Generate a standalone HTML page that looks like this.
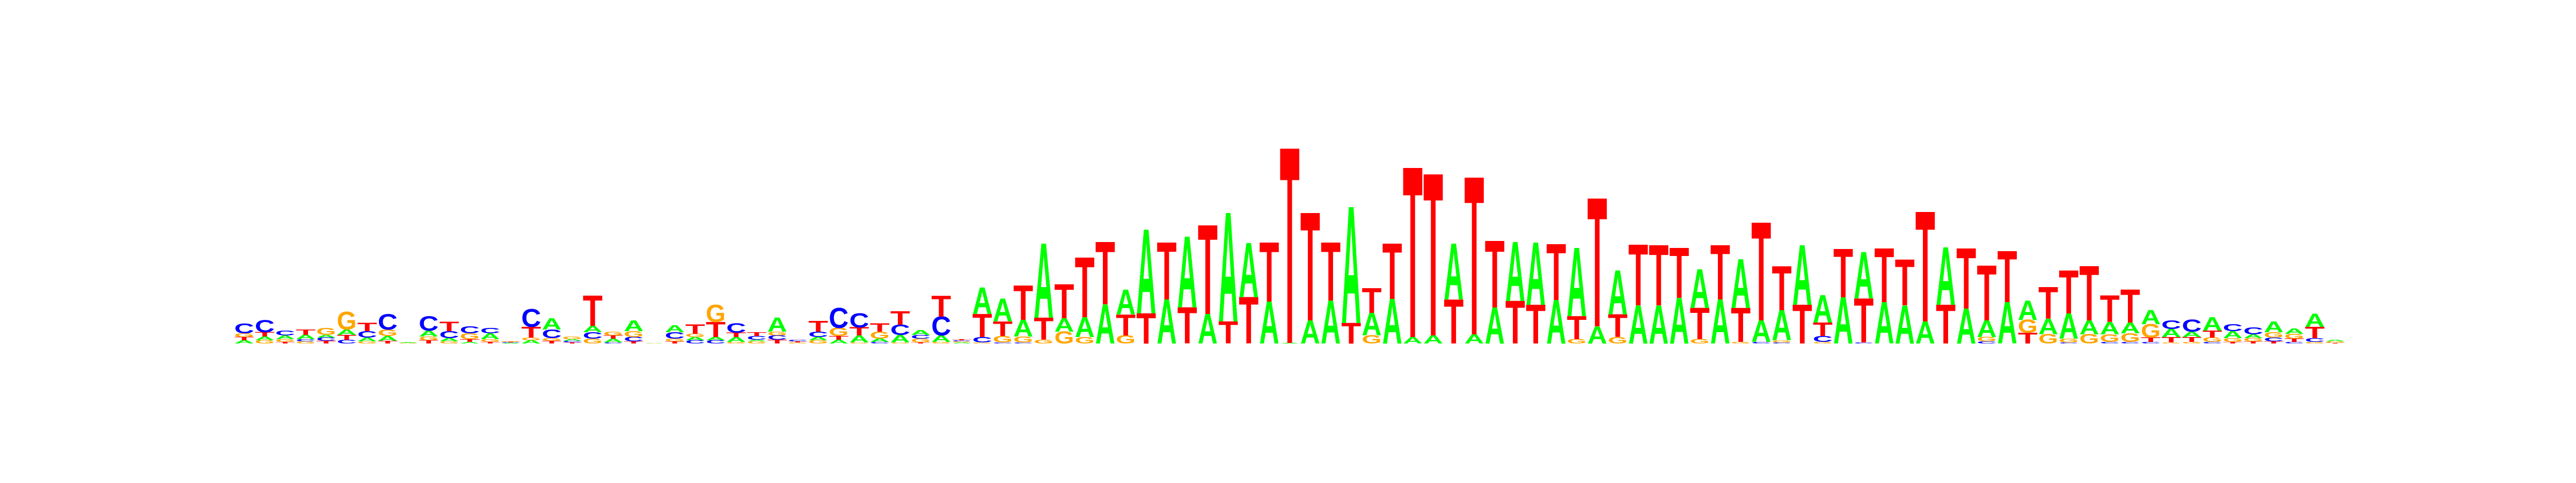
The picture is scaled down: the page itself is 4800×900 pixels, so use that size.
<!DOCTYPE html>
<html><head><meta charset="utf-8"><style>
html,body{margin:0;padding:0;background:#fff;}
svg{display:block;}
</style></head><body>
<svg id="logo" width="4800" height="900" viewBox="0 0 4800 900" xmlns="http://www.w3.org/2000/svg">
<rect x="0" y="0" width="4800" height="900" fill="#fff"/>
<g id="stacks"></g>
</svg>
<script>
// letters per position, bottom to top
const stackLetters = [
"ATGC","GATC","TGAC","GCAT","TCAG","CTAG","GACT","TAGC","GA","TGAC",
"GACT","ATGC","TGAC","ACTG","AGTC","TGCA","TCAG","GCAT","CATG","TCGA",
"AG","TGCA","CAGT","CATG","GATC","GACT","TCGA","GTC","GACT","ATGC",
"GATC","CAGT","GACT","TGCA","GACT","AGCT","GCTA","CGTA","CGAT","GTA",
"GAT","GAT","AT","GTA","TA","AT","TA","AT","TA","TA",
"AT","AT","AT","AT","TA","GAT","AT","AT","AT","TA",
"AT","AT","TA","TA","AT","GTA","AT","GTA","AT","AT",
"AT","GTA","AT","GTA","CAT","CGAT","TA","GCTA","AT","CTA",
"AT","AT","AT","TA","AT","CGAT","AT","TGA","GAT","CGAT",
"GAT","CGAT","CGAT","CTGA","GTAC","GTAC","CGTA","TGAC","TGAC","TCGA",
"CTGA","GCTA","TGA"
];
// information heights (bits) per letter, same order
const stackHeights = [
[.03,.03,.035,.09],[.03,.035,.04,.11],[.015,.025,.035,.045],[.02,.02,.04,.05],[.025,.03,.025,.065],
[.035,.045,.05,.165],[.02,.035,.06,.075],[.025,.045,.06,.145],[.005,.005],[.03,.035,.055,.135],
[.02,.03,.065,.085],[.015,.025,.055,.065],[.015,.025,.055,.05],[.005,.005,.005,.005],[.03,.025,.10,.165],
[.025,.025,.08,.105],[.01,.015,.015,.025],[.045,.06,.06,.28],[.01,.035,.03,.035],[.02,.04,.055,.10],
[.003,.003],[.02,.025,.06,.065],[.03,.03,.03,.085],[.03,.03,.14,.16],[.015,.045,.04,.085],
[.02,.015,.035,.035],[.035,.04,.035,.13],[.01,.01,.015],[.03,.03,.05,.10],[.035,.035,.075,.185],
[.01,.065,.075,.13],[.015,.03,.065,.075],[.01,.07,.095,.125],[.01,.035,.035,.045],[.015,.06,.175,.195],
[.01,.01,.01,.01],[.01,.05,.215,.245],[.01,.06,.135,.21],[.01,.055,.155,.32],[.035,.205,.69],
[.11,.125,.315],[.06,.185,.555],[.365,.58],[.075,.195,.23],[.28,.78],
[.41,.53],[.335,.66],[.275,.825],[.205,1.01],[.43,.505],
[.39,.55],[.005,1.81],[.215,1.0],[.40,.54],[.19,1.08],
[.075,.21,.23],[.415,.515],[.06,1.575],[.075,1.50],[.41,.52],
[.085,1.46],[.335,.62],[.395,.55],[.36,.58],[.405,.52],
[.04,.215,.635],[.16,1.19],[.06,.21,.41],[.355,.565],[.355,.56],
[.425,.465],[.04,.29,.36],[.41,.505],[.015,.315,.455],[.015,.20,.91],
[.01,.02,.28,.41],[.36,.555],[.015,.055,.125,.255],[.43,.45],[.01,.41,.43],
[.385,.50],[.355,.425],[.205,1.02],[.36,.535],[.325,.56],
[.02,.04,.155,.51],[.385,.475],[.10,.12,.18],[.085,.145,.295],[.01,.035,.235,.40],
[.085,.13,.505],[.015,.07,.115,.245],[.015,.08,.10,.305],[.015,.04,.125,.13],[.01,.05,.075,.08],
[.015,.045,.05,.11],[.015,.04,.065,.125],[.015,.035,.065,.065],[.02,.03,.035,.065],[.02,.035,.05,.10],
[.015,.03,.045,.05],[.015,.035,.105,.12],[.005,.015,.015]
];
const letterColors = {A:"#00ff00", C:"#0000ff", G:"#ffa500", T:"#ff0000"};

const NS = "http://www.w3.org/2000/svg";
const x0 = 455, colStep = 38.2, colW = 37;
const baseY = 640, pxPerBit = 200;
function xCenter(i){ return x0 + i*colStep; }
function yScale(bits){ return bits*pxPerBit; }

const g = document.getElementById('stacks');
for (let i = 0; i < stackLetters.length; i++) {
  const col = document.createElementNS(NS, 'g');
  
  
  let y = baseY;
  const letters = stackLetters[i];
  for (let j = 0; j < letters.length; j++) {
    const L = letters[j];
    const h = yScale(stackHeights[i][j]);
    if (h < 0.3) continue;
    const t = document.createElementNS(NS, 'text');
    
    
    t.setAttribute('x', 0);
    t.setAttribute('y', 0);
    t.setAttribute('font-family', '"Liberation Sans", sans-serif');
    t.setAttribute('font-weight', 'bold');
    t.setAttribute('font-size', '100');
    t.setAttribute('textLength', colW);
    t.setAttribute('lengthAdjust', 'spacingAndGlyphs');
    t.setAttribute('fill', letterColors[L]);
    t.setAttribute('transform', 'translate(' + (xCenter(i) - colW/2) + ',' + y + ') scale(1,' + (h/68.8) + ')');
    t.textContent = L;
    col.appendChild(t);
    y -= h;
  }
  g.appendChild(col);
}
</script>
</body></html>
